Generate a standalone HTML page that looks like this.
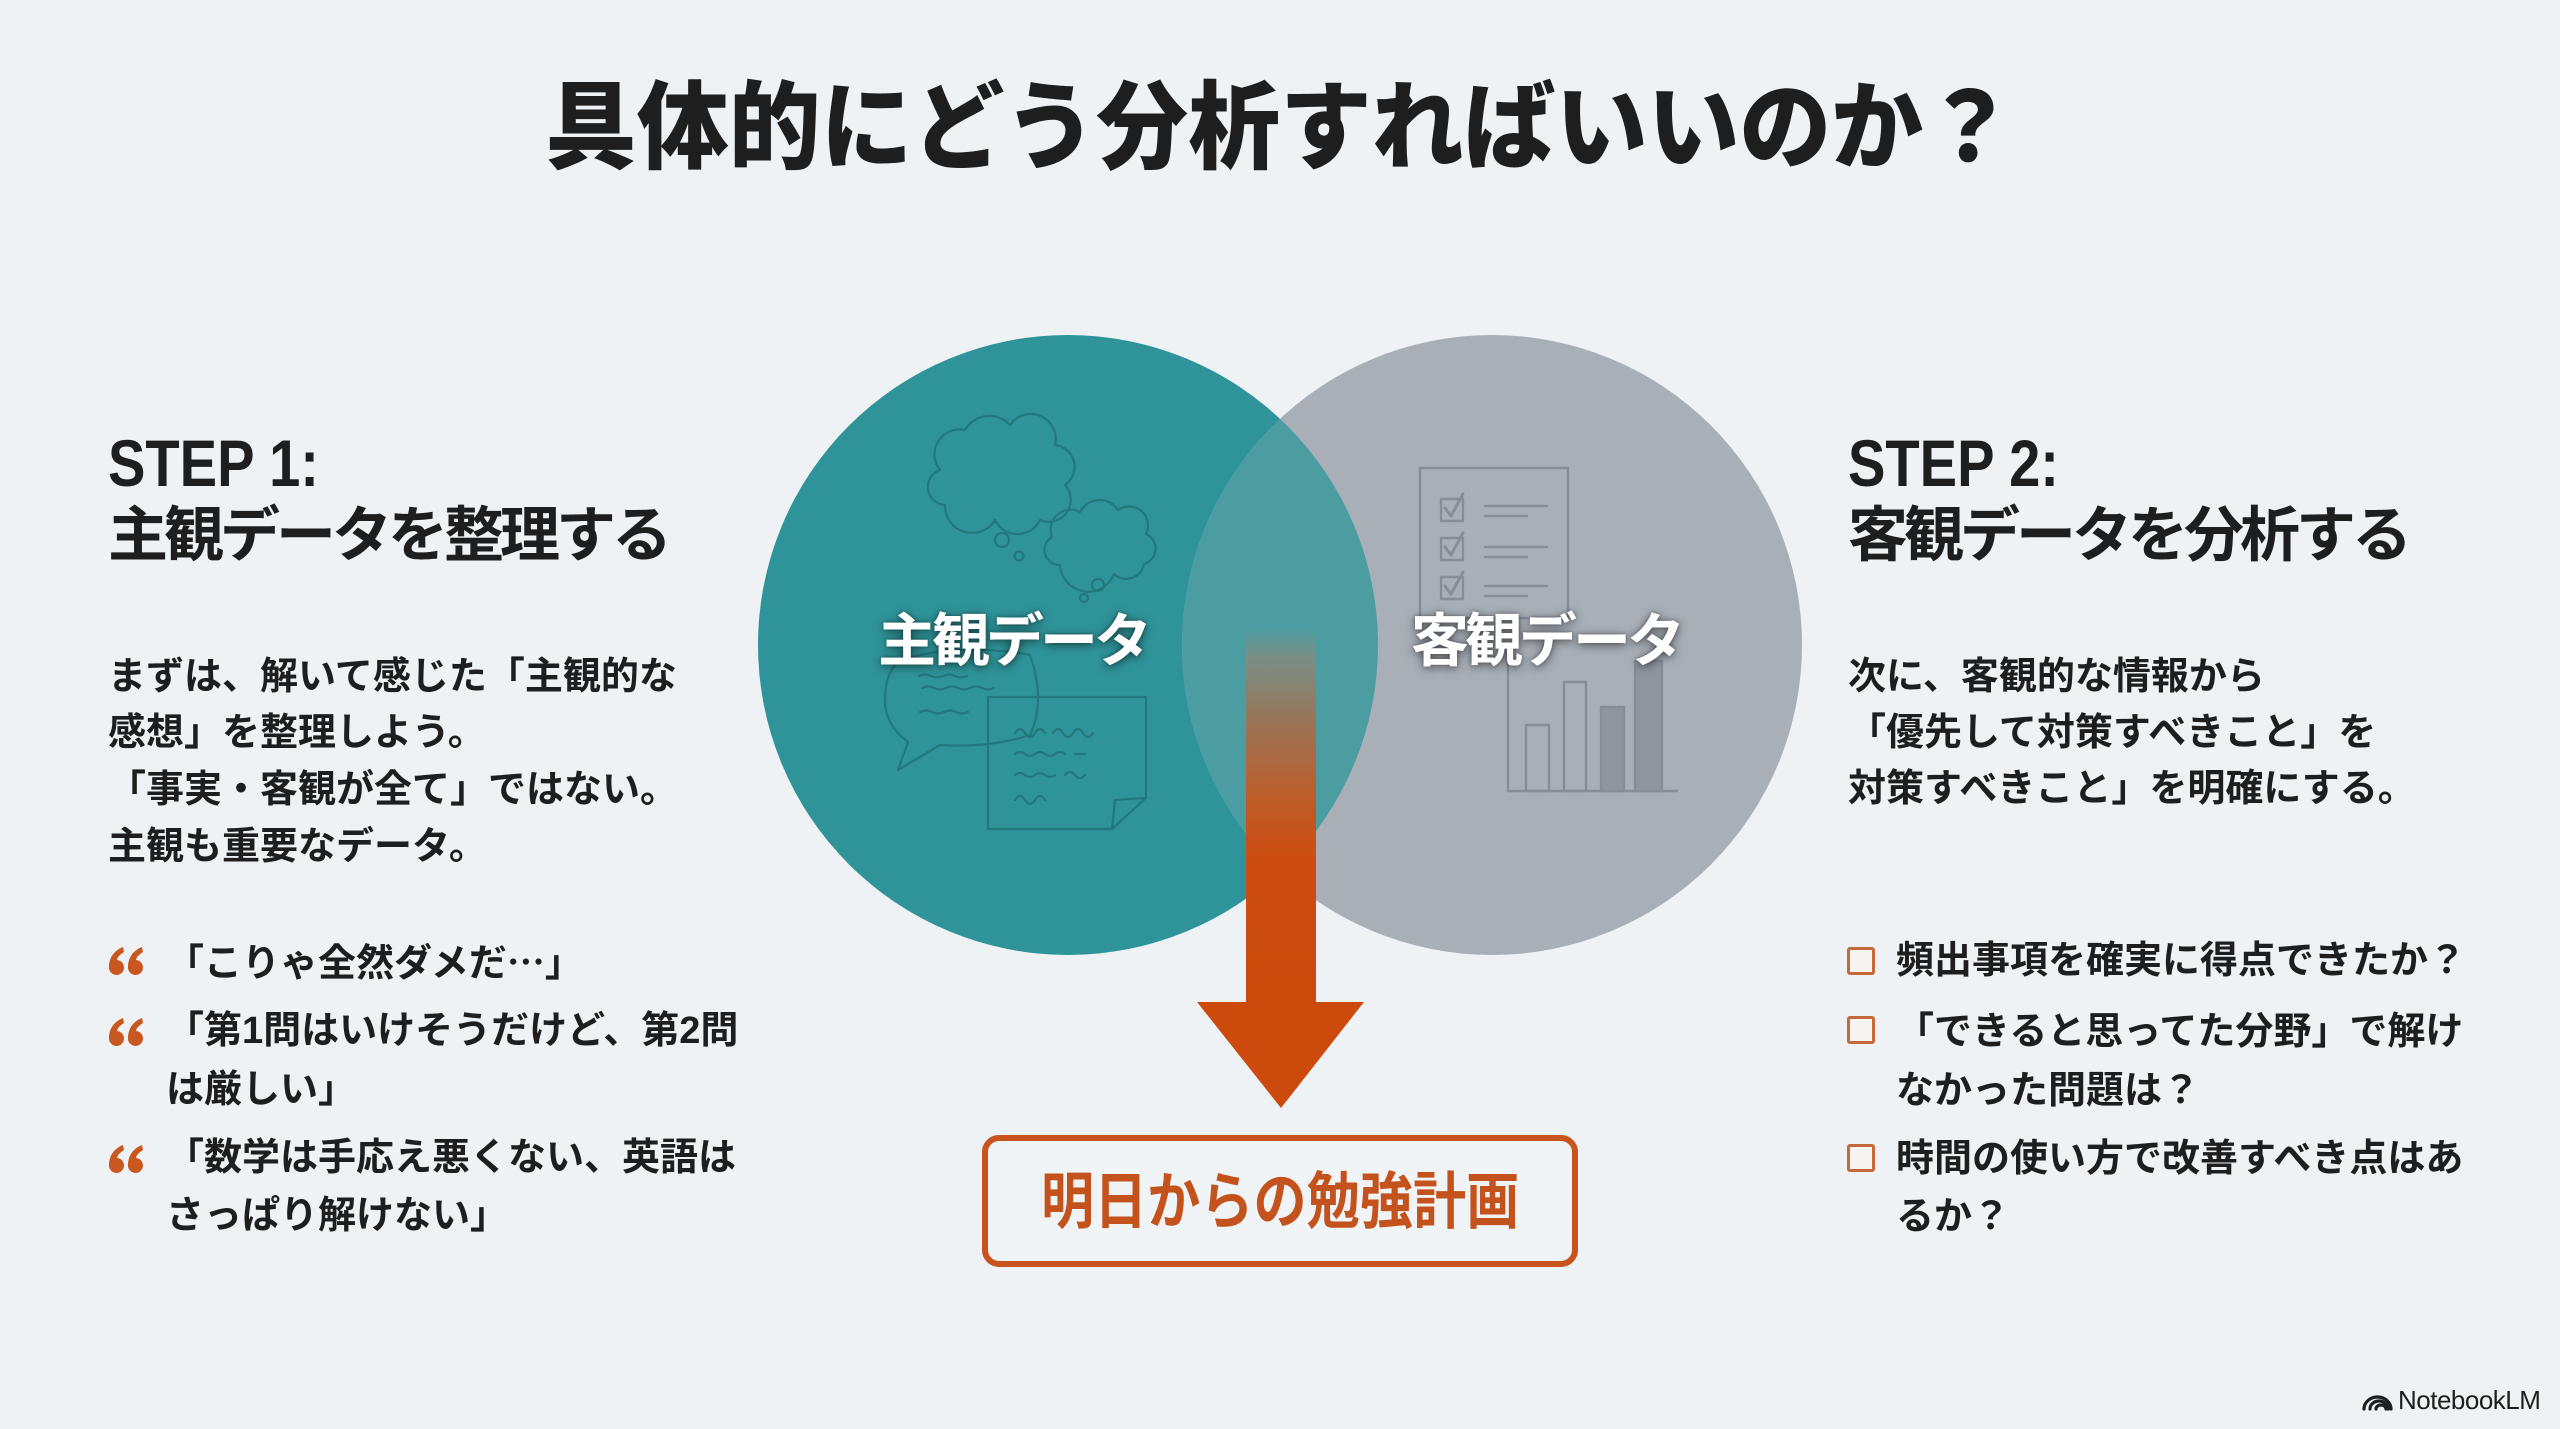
<!DOCTYPE html>
<html lang="ja">
<head>
<meta charset="utf-8">
<style>
  html,body{margin:0;padding:0;}
  body{width:2560px;height:1429px;background:#eef2f5;position:relative;overflow:hidden;
       font-family:"Liberation Sans","Noto Sans CJK JP",sans-serif;color:#1e1e1e;}
  .t{position:absolute;white-space:nowrap;line-height:1;font-weight:700;
     font-family:"Liberation Sans","Noto Sans CJK JP",sans-serif;}
  .cjk{font-family:"Noto Sans CJK JP",sans-serif;}
  .sx{transform-origin:0 0;}
  .b{font-size:38px;}
  .lbl{color:#fff;font-size:58px;letter-spacing:-4px;text-shadow:0 2px 10px rgba(0,0,0,.55),0 0 3px rgba(0,0,0,.3);}
  .cb{position:absolute;width:22px;height:22px;border:3px solid #c46a3a;border-radius:3px;background:#f7f4f1;}
  svg.main{position:absolute;left:0;top:0;}
</style>
</head>
<body>

<svg class="main" width="2560" height="1429" viewBox="0 0 2560 1429" xmlns="http://www.w3.org/2000/svg">
  <defs>
    <clipPath id="clipR"><circle cx="1492" cy="645" r="310"/></clipPath>
    <linearGradient id="shaft" x1="0" y1="628" x2="0" y2="1004" gradientUnits="userSpaceOnUse">
      <stop offset="0" stop-color="#7f8c82" stop-opacity="0"/>
      <stop offset="0.08" stop-color="#7f8c82" stop-opacity="0.9"/>
      <stop offset="0.25" stop-color="#9a7457"/>
      <stop offset="0.45" stop-color="#bd5d2a"/>
      <stop offset="0.62" stop-color="#cd4c10"/>
      <stop offset="1" stop-color="#cc4a0c"/>
    </linearGradient>
  </defs>

  <!-- circles -->
  <circle cx="1068" cy="645" r="310" fill="#2f949a"/>
  <circle cx="1492" cy="645" r="310" fill="#a8afb7"/>
  <circle cx="1068" cy="645" r="310" fill="#4b9da1" clip-path="url(#clipR)"/>

  <!-- left icons -->
  <g fill="none" stroke="#1f6f73" stroke-width="2.2" stroke-linecap="round" stroke-linejoin="round" opacity="0.75">
    <path d="M945,505 a18,18 0 0 1 -5,-35 a25,25 0 0 1 25,-40 a28,28 0 0 1 45,-5 a25,25 0 0 1 45,20 a22,22 0 0 1 10,40 a22,22 0 0 1 -25,35 a25,25 0 0 1 -45,0 a27,27 0 0 1 -50,-15 Z"/>
    <path d="M1060,565 a15,15 0 0 1 -8,-28 a20,20 0 0 1 28,-25 a22,22 0 0 1 38,-2 a19,19 0 0 1 28,24 a16,16 0 0 1 -2,30 a18,18 0 0 1 -30,10 a28,28 0 0 1 -54,-9 Z"/>
    <circle cx="1002" cy="540" r="7"/>
    <circle cx="1019" cy="556" r="4.5"/>
    <circle cx="1098" cy="585" r="6"/>
    <circle cx="1084" cy="598" r="4"/>
    <path d="M900,660 Q960,642 1030,655 Q1046,700 1030,735 Q990,748 940,745 L898,770 L908,742 Q885,725 885,700 Q885,672 900,660 Z"/>
    <path d="M919,676 q6,-3 12,0 t12,0 t12,0 t12,0"/>
    <path d="M922,688 q6,-3 12,0 t12,0 t12,0 t12,0 t12,0 t12,0"/>
    <path d="M920,712 q6,-3 12,0 t12,0 t12,0 t12,0"/>
    <path d="M988,697 L1146,697 L1146,798 L1112,829 L988,829 Z"/>
    <path d="M1112,829 L1115,800 L1146,798"/>
    <path d="M1015,733 q5,-8 10,0 t10,0 t10,0 m8,0 q5,-8 10,0 t10,0 t10,0 t10,0"/>
    <path d="M1015,754 q5,-4 10,0 t10,0 t10,0 t10,0 t10,0 m10,0 l10,0"/>
    <path d="M1015,775 q5,-4 10,0 t10,0 t10,0 t10,0 m10,0 q5,-6 10,0 t10,0"/>
    <path d="M1015,800 q5,-8 10,0 t10,0 t10,0"/>
  </g>

  <!-- right icons -->
  <g fill="none" stroke="#858e97" stroke-width="2.4" stroke-linecap="round" stroke-linejoin="round">
    <rect x="1420" y="468" width="148" height="150"/>
    <rect x="1441" y="499" width="22" height="22"/>
    <rect x="1441" y="538" width="22" height="22"/>
    <rect x="1441" y="577" width="22" height="22"/>
    <path d="M1445,508 l6,8 l12,-22" stroke-width="3"/>
    <path d="M1445,547 l6,8 l12,-22" stroke-width="3"/>
    <path d="M1445,586 l6,8 l12,-22" stroke-width="3"/>
    <path d="M1485,506 h62 M1485,516 h42 M1485,547 h62 M1485,557 h42 M1485,586 h62 M1485,596 h42"/>
    <path d="M1508,655 V791 H1677"/>
    <rect x="1526" y="725" width="23" height="66"/>
    <rect x="1564" y="682" width="22" height="109"/>
    <rect x="1601" y="707" width="23" height="84" fill="#8d959e"/>
    <rect x="1635" y="661" width="27" height="130" fill="#8d959e"/>
  </g>

  <!-- arrow -->
  <rect x="1246" y="628" width="70" height="376" fill="url(#shaft)"/>
  <polygon points="1197,1002 1364,1002 1281,1108" fill="#cc4a0c"/>

  <!-- result box -->
  <rect x="985" y="1138" width="590" height="126" rx="14" ry="14" fill="#f1f4f6" stroke="#c8531d" stroke-width="6"/>

  <!-- quote icons -->
  <g fill="#c8581f">
    <g transform="translate(108,947)">
      <path d="M15,0 C7,3 1,10 1,20 A7.5,7.5 0 1 0 9,13 C9.5,10 12,7.5 16,5 Z"/>
      <path d="M34,0 C26,3 20,10 20,20 A7.5,7.5 0 1 0 28,13 C28.5,10 31,7.5 35,5 Z"/>
    </g>
    <g transform="translate(108,1018)">
      <path d="M15,0 C7,3 1,10 1,20 A7.5,7.5 0 1 0 9,13 C9.5,10 12,7.5 16,5 Z"/>
      <path d="M34,0 C26,3 20,10 20,20 A7.5,7.5 0 1 0 28,13 C28.5,10 31,7.5 35,5 Z"/>
    </g>
    <g transform="translate(108,1145)">
      <path d="M15,0 C7,3 1,10 1,20 A7.5,7.5 0 1 0 9,13 C9.5,10 12,7.5 16,5 Z"/>
      <path d="M34,0 C26,3 20,10 20,20 A7.5,7.5 0 1 0 28,13 C28.5,10 31,7.5 35,5 Z"/>
    </g>
  </g>

  <!-- NotebookLM logo icon -->
  <g fill="none" stroke="#1e1e1e" stroke-width="3.2" stroke-linecap="round">
    <path d="M2364,1409 A13.5,12 0 0 1 2391,1409"/>
    <path d="M2370,1409 A9,8 0 0 1 2388,1409"/>
    <path d="M2376,1409 A5,4 0 0 1 2386,1409"/>
  </g>
</svg>

<!-- Title -->
<div class="t sx" style="left:545px;top:81px;font-size:96px;font-weight:900;transform:scaleX(0.957);">具体的にどう分析すればいいのか？</div>

<!-- Left column -->
<div class="t sx" style="left:108px;top:430px;font-size:66px;transform:scaleX(0.85);">STEP 1:</div>
<div class="t" style="left:108px;top:506px;font-size:60px;letter-spacing:-4px;">主観データを整理する</div>

<div class="t b" style="left:108px;top:658px;">まずは、解いて感じた「主観的な</div>
<div class="t b" style="left:108px;top:714px;">感想」を整理しよう。</div>
<div class="t b" style="left:108px;top:771px;">「事実・客観が全て」ではない。</div>
<div class="t b" style="left:108px;top:828px;">主観も重要なデータ。</div>

<div class="t b" style="left:166px;top:941px;">「こりゃ全然ダメだ<span class="cjk">…</span>」</div>
<div class="t b" style="left:166px;top:1012px;">「第1問はいけそうだけど、第2問</div>
<div class="t b" style="left:166px;top:1071px;">は厳しい」</div>
<div class="t b" style="left:166px;top:1139px;">「数学は手応え悪くない、英語は</div>
<div class="t b" style="left:166px;top:1197px;">さっぱり解けない」</div>

<!-- Circle labels -->
<div class="t lbl" style="left:878px;top:613px;">主観データ</div>
<div class="t lbl" style="left:1411px;top:613px;">客観データ</div>

<!-- Box text -->
<div class="t sx" style="left:1041px;top:1172px;font-size:62px;color:#c4521c;transform:scaleX(0.857);">明日からの勉強計画</div>

<!-- Right column -->
<div class="t sx" style="left:1848px;top:430px;font-size:66px;transform:scaleX(0.85);">STEP 2:</div>
<div class="t" style="left:1848px;top:506px;font-size:60px;letter-spacing:-4px;">客観データを分析する</div>

<div class="t b" style="left:1848px;top:658px;">次に、客観的な情報から</div>
<div class="t b" style="left:1848px;top:714px;">「優先して対策すべきこと」を</div>
<div class="t b" style="left:1848px;top:770px;">対策すべきこと」を明確にする。</div>

<div class="cb" style="left:1847px;top:947px;"></div>
<div class="cb" style="left:1847px;top:1016px;"></div>
<div class="cb" style="left:1847px;top:1144px;"></div>

<div class="t b" style="left:1896px;top:942px;">頻出事項を確実に得点できたか？</div>
<div class="t b" style="left:1896px;top:1013px;">「できると思ってた分野」で解け</div>
<div class="t b" style="left:1896px;top:1072px;">なかった問題は？</div>
<div class="t b" style="left:1896px;top:1140px;">時間の使い方で改善すべき点はあ</div>
<div class="t b" style="left:1896px;top:1198px;">るか？</div>

<!-- NotebookLM -->
<div class="t" style="left:2398px;top:1387px;font-size:26px;font-weight:400;letter-spacing:-0.5px;color:#1e1e1e;">NotebookLM</div>

</body>
</html>
